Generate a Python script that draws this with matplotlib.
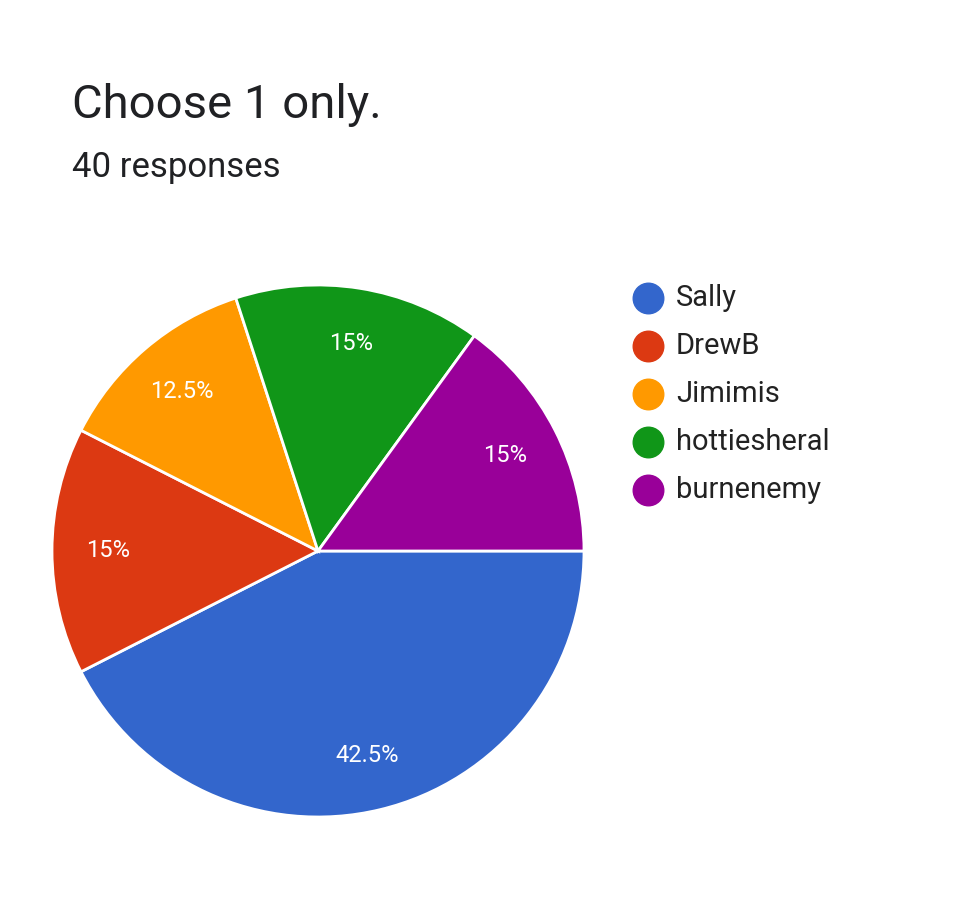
import matplotlib
matplotlib.use("Agg")
import matplotlib.pyplot as plt
from matplotlib.lines import Line2D

labels = ["Sally", "DrewB", "Jimimis", "hottiesheral", "burnenemy"]
values = [42.5, 15, 12.5, 15, 15]
colors = ["#3366cc", "#dc3912", "#ff9900", "#109618", "#990099"]

plt.rcParams['font.family'] = ['Roboto', 'DejaVu Sans']
W, H = 966, 924
fig = plt.figure(figsize=(W/100, H/100), dpi=100)
fig.patch.set_facecolor("white")

cx, cy, r = 318, 551, 266
ax = fig.add_axes([(cx-r)/W, (H-cy-r)/H, 2*r/W, 2*r/H])
wedges, texts, autotexts = ax.pie(values, colors=colors, startangle=0, counterclock=False,
       autopct=lambda p: f"{p:g}%", pctdistance=0.79, radius=1,
       wedgeprops=dict(edgecolor="white", linewidth=2),
       textprops=dict(color="white", fontsize=17))
ax.set_xlim(-1, 1)
ax.set_ylim(-1, 1)
ax.set_aspect("equal")
ax.axis("off")

fig.text(72/W, 1-105/H, "Choose 1 only.", fontsize=34, color="#202124", va="center")
fig.text(72/W, 1-168/H, "40 responses", fontsize=25, color="#202124", va="center")

for i, (lab, c) in enumerate(zip(labels, colors)):
    y = 1 - (298 + 48*i)/H
    fig.add_artist(Line2D([648/W], [y], marker="o", markersize=22, color=c,
                          transform=fig.transFigure, linestyle="none"))
    fig.text(676/W, y, lab, fontsize=21, color="#222222", va="center")

fig.savefig("out.png", dpi=100)
